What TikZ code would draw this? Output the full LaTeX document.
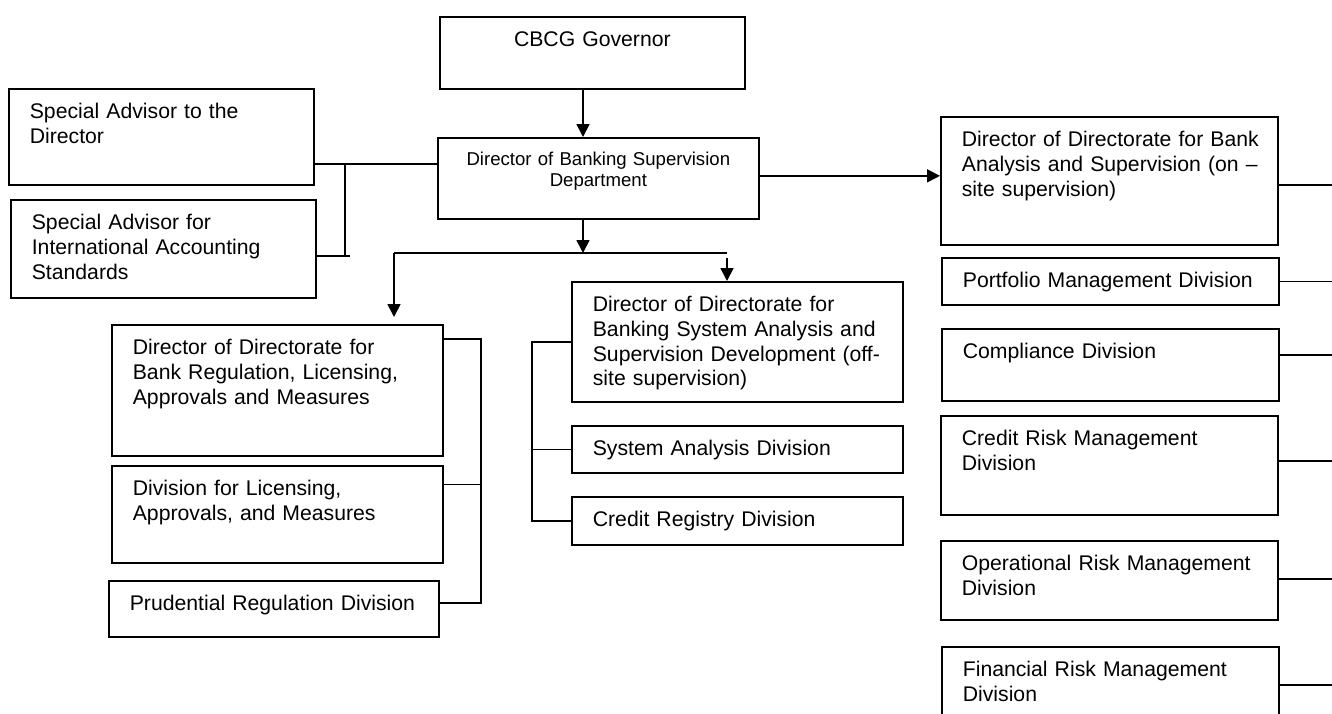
\documentclass[tikz,border=0pt]{standalone}
\usepackage{fontspec}
\setmainfont{Liberation Sans}
\usetikzlibrary{arrows.meta}

\tikzset{
    frame/.style={draw, line width=1.7pt, anchor=north west, inner ysep=0pt,
        text height=30pt, font=\fontsize{21.2}{24.7}\selectfont},
    head/.style={frame, align=center, inner xsep=21pt},
    unit/.style={frame, align=left, inner xsep=0pt, execute at begin node={\leftskip=21pt}},
    link/.style={line width=1.7pt},
    arr/.style={link, -{Triangle[length=13pt,width=13pt]}}
}

\begin{document}
\begin{tikzpicture}[x=1pt, y=-1pt]
    \useasboundingbox (0,0) rectangle (1332,713);
    \clip (0,0) rectangle (1332,713);

    % top of the department
    \node[head, text width=263pt, text depth=42pt] (gov) at (439,16) {CBCG Governor};
    \node[head, text width=279pt, text height=28pt, text depth=53pt,
        font=\fontsize{18.6}{21}\selectfont] (dbsd) at (437,137)
        {Director of Banking Supervision\\Department};

    % advisors
    \node[unit, text width=305pt, text depth=66pt] (sa1) at (8,88) {Special Advisor to the\\Director};
    \node[unit, text width=305pt, text depth=68pt] (sa2) at (10,199)
        {Special Advisor for\\International Accounting\\Standards};

    % on-site supervision
    \node[unit, text width=337pt, text depth=98pt] (onsite) at (940,116)
        {Director of Directorate for Bank\\Analysis and Supervision (on --\\site supervision)};
    \node[unit, text width=337pt, text depth=17pt] (portfolio) at (941,257) {Portfolio Management Division};
    \node[unit, text width=337pt, text depth=42pt] (compliance) at (941,328) {Compliance Division};
    \node[unit, text width=337pt, text depth=69pt] (creditrisk) at (940,415) {Credit Risk Management\\Division};
    \node[unit, text width=337pt, text depth=49pt] (oprisk) at (940,540) {Operational Risk Management\\Division};
    \node[unit, text width=337pt, text depth=50pt] (finrisk) at (941,646) {Financial Risk Management\\Division};

    % regulation
    \node[unit, text width=331pt, text depth=101pt] (regdir) at (111,324)
        {Director of Directorate for\\Bank Regulation, Licensing,\\Approvals and Measures};
    \node[unit, text width=331pt, text depth=67pt] (licdiv) at (111,465)
        {Division for Licensing,\\Approvals, and Measures};
    \node[unit, text width=330pt, text depth=26pt] (prud) at (108,580) {Prudential Regulation Division};

    % off-site supervision
    \node[unit, text width=331pt, text depth=90pt] (offsite) at (571,281)
        {Director of Directorate for\\Banking System Analysis and\\Supervision Development (off-\\site supervision)};
    \node[unit, text width=331pt, text depth=17pt] (sysan) at (571,425) {System Analysis Division};
    \node[unit, text width=331pt, text depth=18pt] (credreg) at (571,496) {Credit Registry Division};

    \coordinate (trunk) at (583,253);
    \coordinate (leftdrop) at (394,253);
    \coordinate (rightdrop) at (727,253);
    \coordinate (advtop) at (345,164);
    \coordinate (advbot) at (345,256);
    \coordinate (regtop) at (481,339);
    \coordinate (regbot) at (481,603);
    \coordinate (offbot) at (532,521);
    \coordinate (edge) at (1332,0);

    \draw[arr] (gov.south -| trunk) -- (dbsd.north -| trunk);
    \draw[arr] (dbsd.south -| trunk) -- (trunk);
    \draw[link] (leftdrop) -- (rightdrop);
    \draw[arr] (leftdrop) -- ([yshift=7pt]regdir.north -| leftdrop);
    \draw[arr] ([yshift=-5pt]rightdrop) -- (offsite.north -| rightdrop);
    \draw[arr] ([yshift=2.5pt]dbsd.east) -- ([yshift=2.5pt]dbsd.east -| onsite.west);

    \draw[link] (sa1.east |- advtop) -- (dbsd.west |- advtop);
    \draw[link] (advtop) -- (advbot);
    \draw[link] (sa2.east |- advbot) -- ([xshift=5pt]advbot);

    \draw[link] (regdir.east |- regtop) -- (regtop) -- (regbot) -- (prud.east |- regbot);
    \draw[link] ([yshift=30pt]licdiv.east) -- ([yshift=30pt]licdiv.east -| regtop);

    \draw[link] (offsite.west) -- (offsite.west -| offbot) -- (offbot) -- (credreg.west |- offbot);
    \draw[link] (sysan.west) -- (sysan.west -| offbot);

    \foreach \n/\dy in {onsite/-4, portfolio/0, compliance/10, creditrisk/4.5, oprisk/1.5, finrisk/2}
        \draw[link] ([yshift=\dy pt]\n.east) -- ([yshift=\dy pt]\n.east -| edge);
\end{tikzpicture}
\end{document}
